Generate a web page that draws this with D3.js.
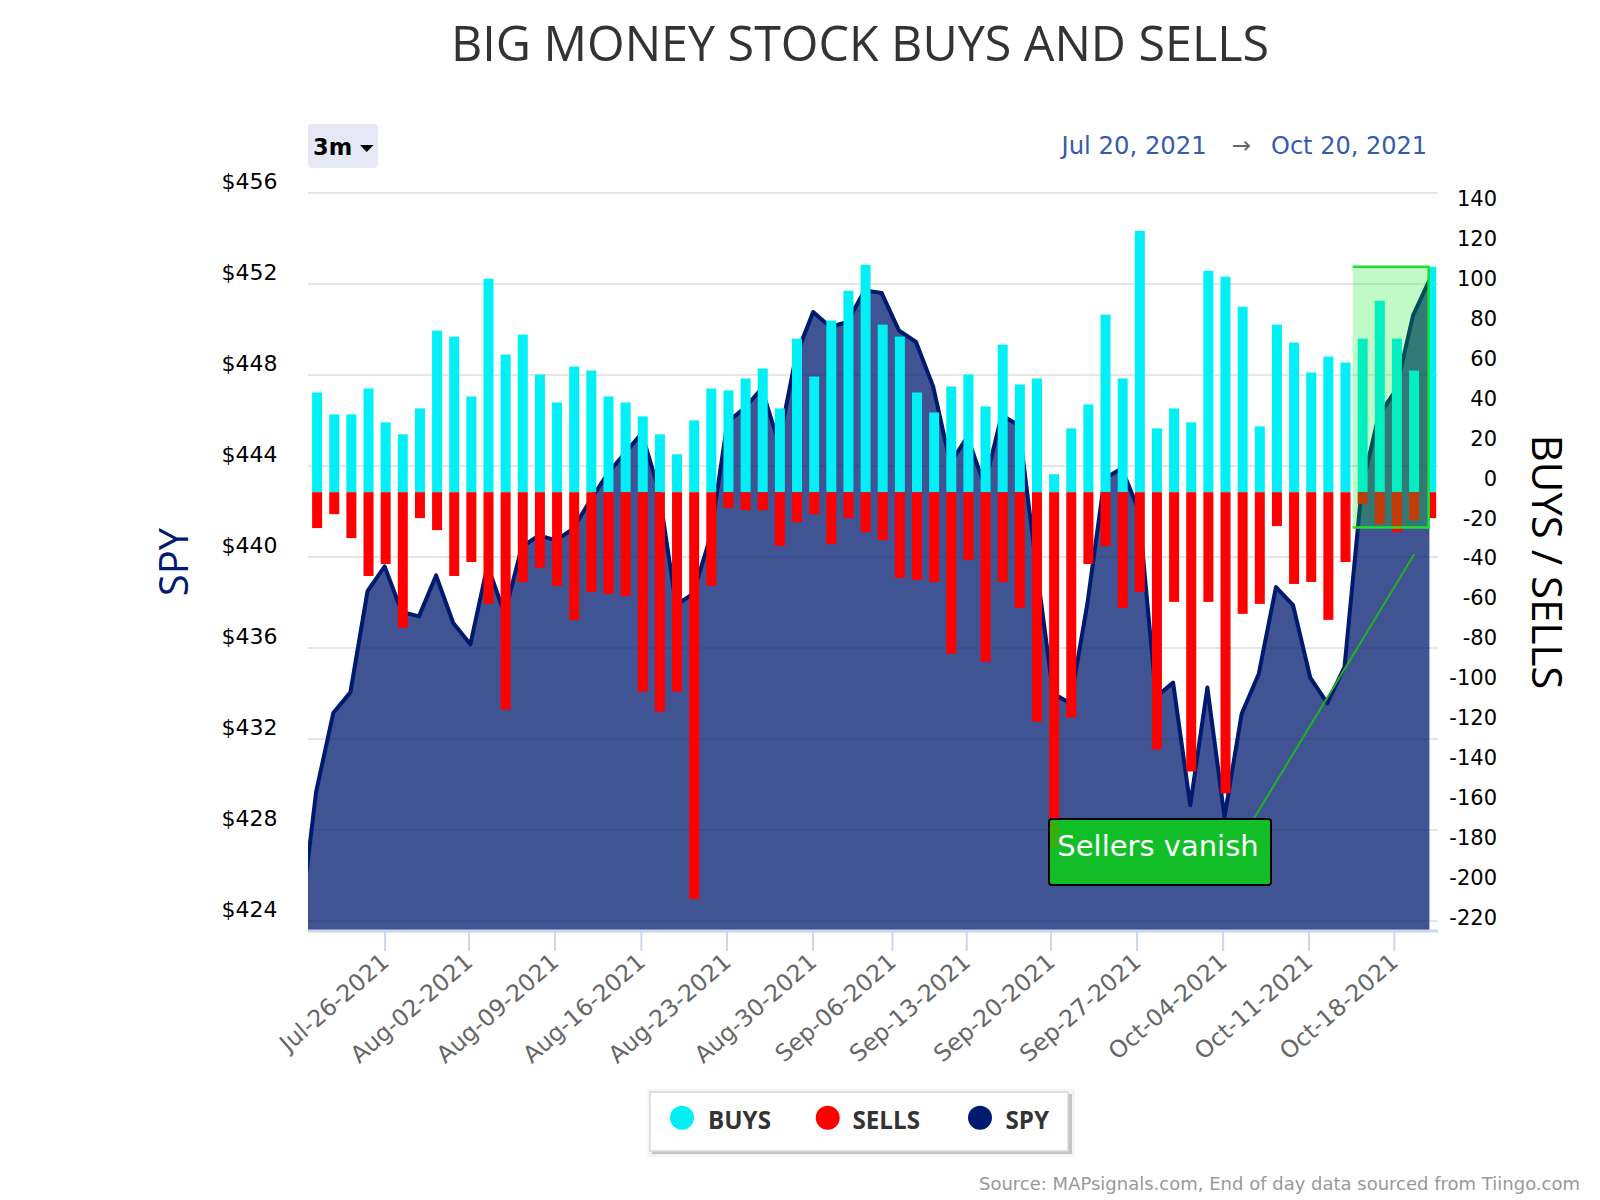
<!DOCTYPE html>
<html>
<head>
<meta charset="utf-8">
<script src="https://cdn.jsdelivr.net/npm/d3@7/dist/d3.min.js"></script>
<style>
html, body { margin: 0; padding: 0; background: #fff; }
svg { display: block; }
</style>
</head>
<body>
<div id="chart"></div>
<script>
// trading days shown, first point is Jul 20
var dates = ['Jul-20','Jul-21','Jul-22','Jul-23','Jul-26','Jul-27','Jul-28','Jul-29','Jul-30',
    'Aug-02','Aug-03','Aug-04','Aug-05','Aug-06','Aug-09','Aug-10','Aug-11','Aug-12','Aug-13',
    'Aug-16','Aug-17','Aug-18','Aug-19','Aug-20','Aug-23','Aug-24','Aug-25','Aug-26','Aug-27',
    'Aug-30','Aug-31','Sep-01','Sep-02','Sep-03','Sep-07','Sep-08','Sep-09','Sep-10',
    'Sep-13','Sep-14','Sep-15','Sep-16','Sep-17','Sep-20','Sep-21','Sep-22','Sep-23','Sep-24',
    'Sep-27','Sep-28','Sep-29','Sep-30','Oct-01','Oct-04','Oct-05','Oct-06','Oct-07','Oct-08',
    'Oct-11','Oct-12','Oct-13','Oct-14','Oct-15','Oct-18','Oct-19','Oct-20'];

var buys = [50,39,39,52,35,29,42,81,78,48,107,69,79,59,45,63,61,48,45,38,29,19,36,52,51,57,62,42,77,58,86,
    101,114,84,78,50,40,53,59,43,74,54,57,9,32,44,89,57,131,32,42,35,111,108,93,33,84,75,60,68,65,77,96,77,61,113];

var sells = [18,11,23,42,36,68,13,19,42,35,56,109,45,38,47,64,50,51,52,100,110,100,204,47,8,9,9,27,15,11,26,
    13,20,24,43,44,45,81,34,85,45,58,115,178,113,36,27,58,50,129,55,140,55,151,61,56,17,46,45,64,35,6,16,20,14,13];

var spy = [429.67,433.14,434.05,438.5,439.59,437.58,437.39,439.19,437.1,436.16,
    439.63,437.5,440.44,440.95,440.73,441.25,442.49,443.66,444.55,445.44,
    442.93,437.88,438.39,440.88,445.93,446.55,447.4,445,448.85,450.77,
    450.11,450.33,451.72,451.6,449.96,449.45,447.5,444.12,445.28,443.15,
    446.23,445.79,439.72,434,433.57,437.96,443.45,443.89,442.05,433.85,
    434.48,429.09,434.26,428.57,433.11,434.87,438.68,437.88,434.7,433.58,
    435.17,443,446.23,447.33,450.62,452.24];
// close of the day before the window, only the stub at the left edge shows
var spyBefore = 423.4;

var priceTicks = [424,428,432,436,440,444,448,452,456];
var flowTicks = [-220,-200,-180,-160,-140,-120,-100,-80,-60,-40,-20,0,20,40,60,80,100,120,140];

// weekly labels sit at these trading day positions
var weekTicks = [3.94,8.83,13.85,18.89,23.89,28.9,33.54,37.87,42.79,47.81,52.83,57.84,62.82];
var weekLabels = ['Jul-26-2021','Aug-02-2021','Aug-09-2021','Aug-16-2021','Aug-23-2021','Aug-30-2021',
    'Sep-06-2021','Sep-13-2021','Sep-20-2021','Sep-27-2021','Oct-04-2021','Oct-11-2021','Oct-18-2021'];

var legendNames = ['BUYS','SELLS','SPY'];
var legendColors = ['#00f0f5','#ff0000','#001a6f'];

var svgWidth = 1600;
var svgHeight = 1200;
var plot = {left: 308, right: 1429.4, top: 193, bottom: 931, gridRight: 1438};

var svg = d3.select('#chart')
    .append('svg')
    .attr('width', svgWidth)
    .attr('height', svgHeight);

var defs = svg.append('defs');
defs.append('clipPath').attr('id', 'plotClip').append('rect')
    .attr('x', plot.left).attr('y', plot.top - 10)
    .attr('width', plot.right - plot.left).attr('height', plot.bottom - plot.top + 10);

var xScale = d3.scaleLinear().domain([0, dates.length - 1]).range([317.1, 1431.2]);
var yPrice = d3.scaleLinear().domain([424, 456]).range([921, plot.top]);
var yFlow = d3.scaleLinear().domain([-220, 150]).range([plot.bottom, plot.top]);

var labelFont = '"DejaVu Sans", sans-serif';
var titleFont = '"Open Sans", sans-serif';

// gridlines come first, the area is see-through
svg.append('g').selectAll('line')
    .data(priceTicks)
    .enter()
    .append('line')
    .attr('x1', plot.left)
    .attr('x2', plot.gridRight)
    .attr('y1', d => yPrice(d))
    .attr('y2', d => yPrice(d))
    .attr('stroke', '#e6e6e6')
    .attr('stroke-width', 2);

// spy area + line
var spyPoints = [{i: -1, v: spyBefore}].concat(spy.map((v, i) => ({i: i, v: v})));

var area = d3.area()
    .x(d => xScale(d.i) - 1)
    .y0(plot.bottom)
    .y1(d => yPrice(d.v));

var line = d3.line()
    .x(d => xScale(d.i) - 1)
    .y(d => yPrice(d.v));

var spyGroup = svg.append('g').attr('clip-path', 'url(#plotClip)');
spyGroup.append('path')
    .attr('d', area(spyPoints))
    .attr('fill', '#001a6f')
    .attr('fill-opacity', 0.75);
spyGroup.append('path')
    .attr('d', line(spyPoints))
    .attr('fill', 'none')
    .attr('stroke', '#001a6f')
    .attr('stroke-width', 4)
    .attr('stroke-linejoin', 'round');

// bars, the last day is cut narrower at the edge of the plot
var barWidth = 10;
var lastBar = dates.length - 1;
var barLeft = (d, i) => xScale(i) - barWidth / 2 + (i === lastBar ? 2.5 : 0);
var barSize = (d, i) => i === lastBar ? barWidth - 2.5 : barWidth;
var barGroup = svg.append('g');

barGroup.selectAll('rect.buy')
    .data(buys)
    .enter()
    .append('rect')
    .attr('class', 'buy')
    .attr('x', barLeft)
    .attr('y', d => yFlow(d))
    .attr('width', barSize)
    .attr('height', d => yFlow(0) - yFlow(d))
    .attr('fill', '#00f0f5');

barGroup.selectAll('rect.sell')
    .data(sells)
    .enter()
    .append('rect')
    .attr('class', 'sell')
    .attr('x', barLeft)
    .attr('y', yFlow(0))
    .attr('width', barSize)
    .attr('height', d => yFlow(-d) - yFlow(0))
    .attr('fill', '#ff0000');

// axis line
svg.append('line')
    .attr('x1', plot.left)
    .attr('x2', plot.gridRight)
    .attr('y1', plot.bottom)
    .attr('y2', plot.bottom)
    .attr('stroke', '#ccd6eb')
    .attr('stroke-width', 3);

// bottom axis
var bottomAxis = d3.axisBottom(xScale)
    .tickValues(weekTicks)
    .tickFormat((d, i) => weekLabels[i])
    .tickSize(20)
    .tickSizeOuter(0);

var xAxis = svg.append('g')
    .attr('transform', `translate(0, ${plot.bottom})`)
    .call(bottomAxis);
xAxis.select('.domain').remove();
xAxis.selectAll('line').attr('stroke', '#ccd6eb').attr('stroke-width', 2);
xAxis.selectAll('text')
    .attr('transform', 'translate(0, 27) rotate(-41)')
    .attr('x', 0)
    .attr('y', 0)
    .attr('dy', '0.35em')
    .attr('text-anchor', 'end')
    .attr('font-family', labelFont)
    .attr('font-size', 23.5)
    .attr('fill', '#666666');

// left axis, labels sit above their gridlines
var leftAxis = d3.axisLeft(yPrice)
    .tickValues(priceTicks)
    .tickFormat(d => '$' + d)
    .tickSize(0);

var priceAxis = svg.append('g')
    .attr('transform', 'translate(277.5, 0)')
    .call(leftAxis);
priceAxis.select('.domain').remove();
priceAxis.selectAll('text')
    .attr('x', 0)
    .attr('dy', -4.5)
    .attr('font-family', labelFont)
    .attr('font-size', 22)
    .attr('fill', '#000');

// right axis
var rightAxis = d3.axisRight(yFlow)
    .tickValues(flowTicks)
    .tickFormat(d => d < 0 ? '-' + Math.abs(d) : d)
    .tickSize(0);

var flowAxis = svg.append('g')
    .attr('transform', 'translate(1497, 0)')
    .call(rightAxis);
flowAxis.select('.domain').remove();
flowAxis.selectAll('text')
    .attr('x', 0)
    .attr('dy', -7)
    .attr('text-anchor', 'end')
    .attr('font-family', labelFont)
    .attr('font-size', 21)
    .attr('fill', '#000');

// green highlight box, the left side has no visible border
var boxDays = [60.42, 64.85];
var boxFlow = [113, -17.7];
svg.append('rect')
    .attr('x', xScale(boxDays[0]))
    .attr('y', yFlow(boxFlow[0]))
    .attr('width', xScale(boxDays[1]) - xScale(boxDays[0]))
    .attr('height', yFlow(boxFlow[1]) - yFlow(boxFlow[0]))
    .attr('fill', 'rgb(10, 235, 30)')
    .attr('fill-opacity', 0.25);
svg.append('path')
    .attr('d', d3.line()([
        [xScale(boxDays[0]), yFlow(boxFlow[0])],
        [xScale(boxDays[1]), yFlow(boxFlow[0])],
        [xScale(boxDays[1]), yFlow(boxFlow[1])],
        [xScale(boxDays[0]), yFlow(boxFlow[1])]
    ]))
    .attr('fill', 'none')
    .attr('stroke', '#1ee02e')
    .attr('stroke-width', 2.5);

// trend line and callout
svg.append('line')
    .attr('x1', 1253)
    .attr('y1', 820)
    .attr('x2', 1414.4)
    .attr('y2', 554)
    .attr('stroke', '#1fb31f')
    .attr('stroke-width', 2);

svg.append('rect')
    .attr('x', 1049)
    .attr('y', 819)
    .attr('width', 222)
    .attr('height', 66)
    .attr('rx', 3)
    .attr('fill', 'rgb(5, 218, 12)')
    .attr('fill-opacity', 0.8);
svg.append('rect')
    .attr('x', 1049)
    .attr('y', 819)
    .attr('width', 222)
    .attr('height', 66)
    .attr('rx', 3)
    .attr('fill', 'none')
    .attr('stroke', '#000')
    .attr('stroke-width', 2);
svg.append('text')
    .attr('x', 1158)
    .attr('y', 856)
    .attr('text-anchor', 'middle')
    .attr('font-family', labelFont)
    .attr('font-size', 29)
    .attr('fill', '#fff')
    .text('Sellers vanish');

// range selector
svg.append('rect')
    .attr('x', 308)
    .attr('y', 124)
    .attr('width', 70)
    .attr('height', 44)
    .attr('rx', 4)
    .attr('fill', '#e6e9f5');
svg.append('text')
    .attr('x', 313)
    .attr('y', 155)
    .attr('font-family', labelFont)
    .attr('font-size', 22.5)
    .attr('font-weight', 'bold')
    .attr('fill', '#000')
    .text('3m');
svg.append('path')
    .attr('d', d3.line()([[360, 145], [373.6, 145], [366.8, 152]]) + 'Z')
    .attr('fill', '#000');

// date range
var rangeColor = '#335cad';
svg.append('text')
    .attr('x', 1061.5)
    .attr('y', 154)
    .attr('font-family', labelFont)
    .attr('font-size', 24.3)
    .attr('fill', rangeColor)
    .text('Jul 20, 2021');
svg.append('text')
    .attr('x', 1241.5)
    .attr('y', 153)
    .attr('text-anchor', 'middle')
    .attr('font-family', labelFont)
    .attr('font-size', 23)
    .attr('fill', '#666666')
    .text('→');
svg.append('text')
    .attr('x', 1271)
    .attr('y', 154)
    .attr('font-family', labelFont)
    .attr('font-size', 24)
    .attr('fill', rangeColor)
    .text('Oct 20, 2021');

// titles
svg.append('text')
    .attr('x', 860)
    .attr('y', 60.5)
    .attr('text-anchor', 'middle')
    .attr('font-family', titleFont)
    .attr('font-size', 48.4)
    .attr('fill', '#333333')
    .text('BIG MONEY STOCK BUYS AND SELLS');

svg.append('text')
    .attr('transform', 'translate(188, 562) rotate(-90)')
    .attr('text-anchor', 'middle')
    .attr('font-family', titleFont)
    .attr('font-size', 40)
    .attr('fill', '#001a6f')
    .text('SPY');

svg.append('text')
    .attr('transform', 'translate(1532, 562) rotate(90)')
    .attr('text-anchor', 'middle')
    .attr('font-family', titleFont)
    .attr('font-size', 42)
    .attr('fill', '#000')
    .text('BUYS / SELLS');

// legend
var legendGroup = svg.append('g');
legendGroup.append('rect')
    .attr('x', 647.5)
    .attr('y', 1089)
    .attr('width', 427.5)
    .attr('height', 68)
    .attr('fill', '#f4f4f4');
legendGroup.append('rect')
    .attr('x', 652)
    .attr('y', 1094)
    .attr('width', 420)
    .attr('height', 60)
    .attr('fill', '#c4c4c4');
legendGroup.append('rect')
    .attr('x', 650)
    .attr('y', 1092)
    .attr('width', 418)
    .attr('height', 59)
    .attr('fill', '#fff')
    .attr('stroke', '#d8d8d8')
    .attr('stroke-width', 1.5);

var legendDotX = [682, 827.7, 980];
var legendTextX = [708, 852.5, 1005.5];

legendNames.forEach(function(name, i) {
    legendGroup.append('circle')
        .attr('cx', legendDotX[i])
        .attr('cy', 1117.7)
        .attr('r', 12)
        .attr('fill', legendColors[i]);
    legendGroup.append('text')
        .attr('x', legendTextX[i])
        .attr('y', 1129)
        .attr('font-family', titleFont)
        .attr('font-size', 24.2)
        .attr('font-weight', 'bold')
        .attr('fill', '#333333')
        .text(name);
});

// source
svg.append('text')
    .attr('x', 1580)
    .attr('y', 1190)
    .attr('text-anchor', 'end')
    .attr('font-family', labelFont)
    .attr('font-size', 18)
    .attr('fill', '#999999')
    .text('Source: MAPsignals.com, End of day data sourced from Tiingo.com');
</script>
</body>
</html>
